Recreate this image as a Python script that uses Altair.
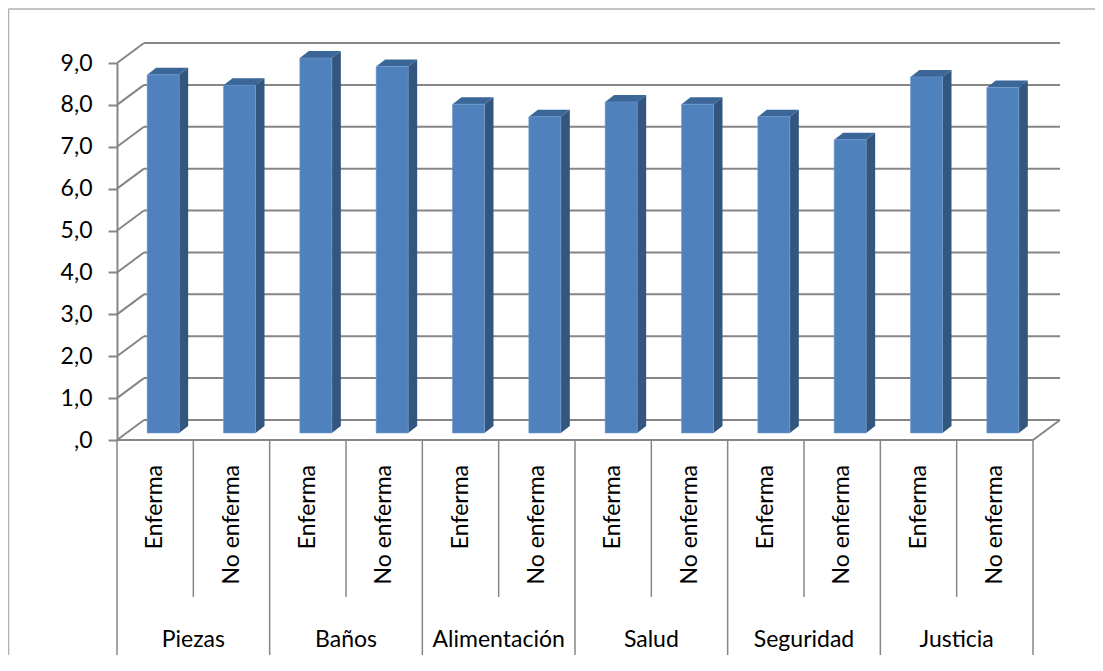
import altair as alt
import pandas as pd

# ---- data ----
grupos = ["Piezas", "Baños", "Alimentación", "Salud", "Seguridad", "Justicia"]
subgrupos = ["Enferma", "No enferma"]
enferma = [8.55, 8.95, 7.85, 7.90, 7.55, 8.50]
no_enferma = [8.30, 8.75, 7.55, 7.85, 7.00, 8.25]
y_ticks = [0, 1, 2, 3, 4, 5, 6, 7, 8, 9]

# ---- styling / geometry constants ----
W, H = 916, 377
FONT = "Lato"
FS = 23
GRID = "#868686"
FRONT = "#4F81BD"
SIDE = "#33567f"
TOP = "#3b6698"
N = len(grupos) * len(subgrupos)
PX_X = W / N
PX_Y = H / 9
BAR_HALF = 16 / PX_X
DXB = 9 / PX_X
DYB = 7 / PX_Y
WALL_DX, WALL_DY = 27, -20
BAR_DX, BAR_DY = 8, -7
SHX = BAR_DX / PX_X
SHY = -BAR_DY / PX_Y

xs = alt.Scale(domain=[0, N], nice=False, zero=False)
ys = alt.Scale(domain=[0, 9], nice=False)
Y_AXIS = alt.Axis(
    values=y_ticks, title=None, grid=False, domainColor=GRID, domainWidth=2,
    tickColor=GRID, tickWidth=2, tickSize=9, labelPadding=16,
    labelFont=FONT, labelFontSize=FS, labelColor="black",
    labelExpr="datum.value == 0 ? ',0' : replace(format(datum.value, '.1f'), '.', ',')")

rows = []
for g, grp in enumerate(grupos):
    for s, (sub, vals) in enumerate(zip(subgrupos, [enferma, no_enferma])):
        i = 2 * g + s
        rows.append(dict(id=i, grupo=grp, sub=sub, v=vals[g],
                         x0=i + 0.5 - BAR_HALF, x1=i + 0.5 + BAR_HALF, xc=i + 0.5))
bars = pd.DataFrame(rows)

side_rows, cap_rows = [], []
for r in rows:
    v, x0, x1 = r["v"] + SHY, r["x0"] + SHX, r["x1"] + SHX
    b = SHY
    side_rows += [dict(id=r["id"], x=x1, top=v, bot=b),
                  dict(id=r["id"], x=x1 + DXB, top=v + DYB, bot=b + DYB)]
    cap_rows += [dict(id=r["id"], x=x0, top=v, bot=v),
                 dict(id=r["id"], x=x0 + DXB, top=v + DYB, bot=v),
                 dict(id=r["id"], x=x1, top=v + DYB, bot=v),
                 dict(id=r["id"], x=x1 + DXB, top=v + DYB, bot=v + DYB)]
side = pd.DataFrame(side_rows)
cap = pd.DataFrame(cap_rows)

ticks = pd.DataFrame({"t": y_ticks, "x0": 0, "x1": N})
bounds = pd.DataFrame({"k": list(range(N + 1))})
bounds["kind"] = ["group" if k % 2 == 0 else "sub" for k in bounds["k"]]
groups_df = pd.DataFrame({"grupo": grupos, "xc": [2 * g + 1 for g in range(len(grupos))]})
floor_df = pd.DataFrame({"x": [N], "y": [0]})

# back wall gridlines
back = alt.Chart(ticks).mark_rule(color=GRID, strokeWidth=2, xOffset=WALL_DX, x2Offset=WALL_DX,
                                  yOffset=WALL_DY).encode(
    x=alt.X("x0:Q", scale=xs, axis=None),
    x2="x1:Q",
    y=alt.Y("t:Q", scale=ys, axis=Y_AXIS),
)

# side wall diagonals
diag = alt.Chart(ticks).mark_rule(color=GRID, strokeWidth=2, x2Offset=WALL_DX, y2Offset=WALL_DY).encode(
    x=alt.X("x0:Q", scale=xs, axis=None), x2="x0:Q",
    y=alt.Y("t:Q", scale=ys, axis=Y_AXIS), y2="t:Q",
)

# floor right diagonal and front floor line
floor_r = alt.Chart(floor_df).mark_rule(color=GRID, strokeWidth=2, x2Offset=WALL_DX, y2Offset=WALL_DY).encode(
    x=alt.X("x:Q", scale=xs, axis=None), x2="x:Q",
    y=alt.Y("y:Q", scale=ys, axis=Y_AXIS), y2="y:Q",
)
floor_f = alt.Chart(ticks.head(1)).mark_rule(color=GRID, strokeWidth=2).encode(
    x=alt.X("x0:Q", scale=xs, axis=None), x2="x1:Q",
    y=alt.Y("t:Q", scale=ys, axis=Y_AXIS),
)

# bars: caps, sides, fronts
caps = alt.Chart(cap).mark_area(color=TOP, orient="vertical").encode(
    x=alt.X("x:Q", scale=xs, axis=None),
    y=alt.Y("top:Q", scale=ys, axis=Y_AXIS, stack=None),
    y2="bot:Q",
    detail="id:N",
)
sides = alt.Chart(side).mark_area(color=SIDE, orient="vertical").encode(
    x=alt.X("x:Q", scale=xs, axis=None),
    y=alt.Y("top:Q", scale=ys, axis=Y_AXIS, stack=None),
    y2="bot:Q",
    detail="id:N",
)
fronts = alt.Chart(bars).mark_bar(color=FRONT, xOffset=BAR_DX, x2Offset=BAR_DX, yOffset=BAR_DY,
                                  y2Offset=BAR_DY, stroke="#6f9bd0", strokeWidth=0.6).encode(
    x=alt.X("x0:Q", scale=xs, axis=None), x2="x1:Q",
    y=alt.Y("v:Q", scale=ys, axis=Y_AXIS), y2=alt.datum(0),
)

# category separators
sep_sub = alt.Chart(bounds).transform_filter("datum.kind == 'sub'").mark_rule(
    color=GRID, strokeWidth=1.5).encode(
    x=alt.X("k:Q", scale=xs, axis=None), y=alt.value(H), y2=alt.value(H + 157))
sep_grp = alt.Chart(bounds).transform_filter("datum.kind == 'group'").mark_rule(
    color=GRID, strokeWidth=1.5).encode(
    x=alt.X("k:Q", scale=xs, axis=None), y=alt.value(H), y2=alt.value(H + 220))

sub_labels = alt.Chart(bars).mark_text(angle=270, align="right", baseline="middle",
                                       font=FONT, fontSize=FS, color="black").encode(
    x=alt.X("xc:Q", scale=xs, axis=None), y=alt.value(H + 25), text="sub:N")
grp_labels = alt.Chart(groups_df).mark_text(align="center", baseline="middle",
                                            font=FONT, fontSize=FS, color="black").encode(
    x=alt.X("xc:Q", scale=xs, axis=None), y=alt.value(H + 200), text="grupo:N")

# outer border (top & left)
border_top = alt.Chart(floor_df).mark_rule(color="#b0b0b0", strokeWidth=1.5).encode(
    x=alt.value(-108.5), x2=alt.value(W + 62), y=alt.value(-54))
border_left = alt.Chart(floor_df).mark_rule(color="#b0b0b0", strokeWidth=1.5).encode(
    x=alt.value(-108.5), y=alt.value(-54), y2=alt.value(H + 215))

chart = alt.layer(
    back, diag, floor_r, floor_f, caps, sides, fronts,
    sep_sub, sep_grp, sub_labels, grp_labels, border_top, border_left
).properties(
    width=W, height=H,
    autosize=alt.AutoSizeParams(type="none"),
    padding={"left": 109, "top": 55, "right": 62, "bottom": 215},
).configure_view(strokeWidth=0)

chart.save("out.html", embed_options={"renderer": "svg", "actions": False})
